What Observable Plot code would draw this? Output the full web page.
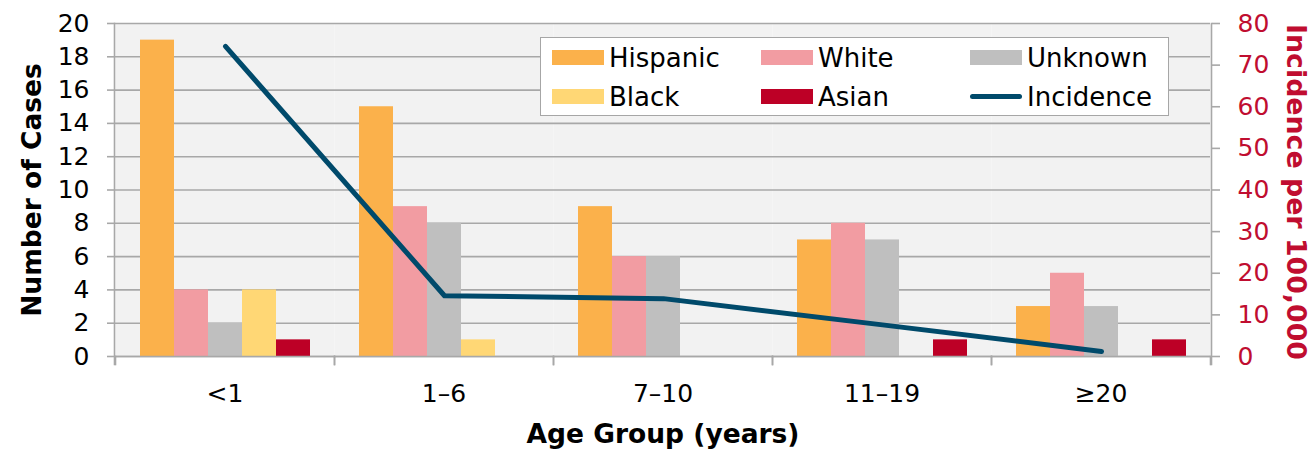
<!DOCTYPE html>
<html>
<head>
<meta charset="utf-8">
<script src="https://cdn.jsdelivr.net/npm/d3@7"></script>
<script src="https://cdn.jsdelivr.net/npm/@observablehq/plot@0.6"></script>
<style>
  html, body { margin: 0; padding: 0; background: #fff; }
  #chart { position: relative; width: 1313px; height: 450px; font-family: "DejaVu Sans", Verdana, sans-serif; }
  #chart > div.layer { position: absolute; left: 0; top: 0; }
  #legend { position: absolute; left: 540px; top: 37px; width: 627px; height: 77px; background: #fff; border: 1.5px solid #a6a6a6; }
  .li { position: absolute; height: 39px; display: flex; align-items: center; font-size: 26px; color: #000; white-space: nowrap; }
  .sw { width: 52px; height: 15px; margin-right: 5px; }
  .ln { width: 52px; height: 5px; border-radius: 3px; margin-right: 5px; }
</style>
</head>
<body>
<div id="chart">
  <div class="layer" id="bars"></div>
  <div class="layer" id="line"></div>
  <div id="legend"></div>
</div>
<script>
// ---- data ----
const ageGroups = ["<1", "1–6", "7–10", "11–19", "≥20"];
const races = ["Hispanic", "White", "Unknown", "Black", "Asian"];
const hispanic = [19, 15, 9, 7, 3];
const white    = [4, 9, 6, 8, 5];
const unknown  = [2, 8, 6, 7, 3];
const black    = [4, 1, 0, 0, 0];
const asian    = [1, 0, 0, 1, 1];
const incidence = [74.5, 14.6, 13.9, 7.6, 1.2];
const leftTicks = [0, 2, 4, 6, 8, 10, 12, 14, 16, 18, 20];
const rightTicks = [0, 10, 20, 30, 40, 50, 60, 70, 80];
const raceColors = ["#fbb14b", "#f29ca2", "#bfbfbf", "#ffd775", "#bd0026"];
const lineColor = "#004a6b";
const red = "#c00d30";
const gridColor = "#a8a8a8";

// ---- tables ----
const seriesValues = [hispanic, white, unknown, black, asian];
const caseRows = [];
races.forEach((race, j) => ageGroups.forEach((age, i) => caseRows.push({age, race, cases: seriesValues[j][i]})));
const lineRows = ageGroups.map((age, i) => ({age, incidence: incidence[i]}));

const W = 1313, H = 450;
const M = {top: 23, right: 102, bottom: 94, left: 114};
const plotH = H - M.top - M.bottom;
const FONT = '"DejaVu Sans", Verdana, sans-serif';
const common = {
  width: W, height: H,
  marginTop: M.top, marginRight: M.right, marginBottom: M.bottom, marginLeft: M.left,
  style: {fontFamily: FONT, fontSize: "25px", color: "#000", background: "transparent", overflow: "visible"}
};

const bars = Plot.plot({
  ...common,
  fx: {domain: ageGroups, paddingInner: 0, paddingOuter: 0, label: null},
  x: {domain: races, paddingInner: 0, paddingOuter: 0.72, axis: null},
  y: {domain: [0, 20], label: null},
  color: {domain: races, range: raceColors},
  marks: [
    Plot.frame({fill: "#f2f2f2", stroke: null}),
    Plot.gridY(leftTicks, {stroke: gridColor, strokeOpacity: 1, strokeWidth: 1.6}),
    Plot.barY(caseRows, {fx: "age", x: "race", y: "cases", fill: "race"}),
    Plot.frame({anchor: "bottom", stroke: gridColor, strokeWidth: 1.6}),
    Plot.frame({anchor: "left", stroke: gridColor, strokeWidth: 1.6, insetTop: plotH, insetBottom: -8}),
    Plot.frame({anchor: "right", stroke: gridColor, strokeWidth: 1.6, insetTop: plotH, insetBottom: -8}),
    Plot.axisY(leftTicks, {anchor: "left", tickSize: 8, tickPadding: 18, stroke: gridColor, strokeWidth: 1.6, fill: "#000", label: null}),
    Plot.axisFx({anchor: "bottom", tickSize: 0, tickPadding: 28, fill: "#000", label: null})
  ]
});
document.getElementById("bars").append(bars);

const line = Plot.plot({
  ...common,
  x: {type: "point", domain: ageGroups, padding: 0.5, axis: null},
  y: {domain: [0, 80], axis: null},
  marks: [
    Plot.frame({anchor: "left", stroke: gridColor, strokeWidth: 1.6, insetBottom: -8}),
    Plot.frame({anchor: "right", stroke: gridColor, strokeWidth: 1.6, insetBottom: -8}),
    Plot.lineY(lineRows, {x: "age", y: "incidence", stroke: lineColor, strokeWidth: 5, strokeLinecap: "round", strokeLinejoin: "round"}),
    Plot.axisY(rightTicks, {anchor: "right", tickSize: 8, tickPadding: 18, stroke: gridColor, strokeWidth: 1.6, fill: red, label: null}),
    Plot.text(["Number of Cases"], {text: d => d, frameAnchor: "left", rotate: -90, dx: -82, textAnchor: "middle", lineAnchor: "middle", fontWeight: "bold", fontSize: 26.5, fill: "#000"}),
    Plot.text(["Incidence per 100,000"], {text: d => d, frameAnchor: "right", rotate: 90, dx: 84, dy: 2, textAnchor: "middle", lineAnchor: "middle", fontWeight: "bold", fontSize: 26.8, fill: red}),
    Plot.text(["Age Group (years)"], {text: d => d, frameAnchor: "bottom", dy: 78, textAnchor: "middle", lineAnchor: "middle", fontWeight: "bold", fontSize: 26.5, fill: "#000"})
  ]
});
document.getElementById("line").append(line);

// ---- legend ----
const legend = document.getElementById("legend");
const legendItems = races.map((r, i) => ({label: r, color: raceColors[i], kind: "bar"}))
  .concat([{label: "Incidence", color: lineColor, kind: "line"}]);
legendItems.forEach((it, k) => {
  const col = k % 3, row = Math.floor(k / 3);
  const el = document.createElement("div");
  el.className = "li";
  el.style.left = (11 + col * 209) + "px";
  el.style.top = (0 + row * 39) + "px";
  const sw = document.createElement("div");
  sw.className = it.kind === "bar" ? "sw" : "ln";
  sw.style.background = it.color;
  const tx = document.createElement("span");
  tx.textContent = it.label;
  el.append(sw, tx);
  legend.append(el);
});
</script>
</body>
</html>
